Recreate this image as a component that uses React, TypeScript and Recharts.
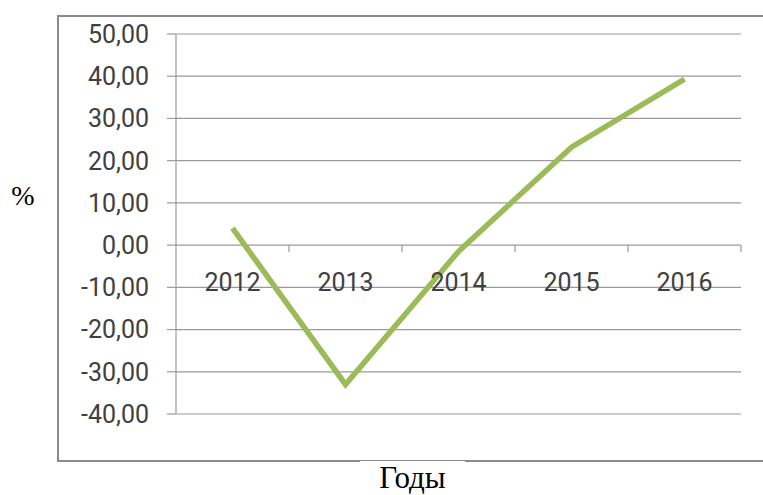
import React from 'react';
import { LineChart, Line, XAxis, YAxis, CartesianGrid, ReferenceDot, ReferenceLine } from 'recharts';

const years = ['2012', '2013', '2014', '2015', '2016'];
const values = [4.0, -33.0, -1.5, 23.2, 39.3];
const yTicks = [-40, -30, -20, -10, 0, 10, 20, 30, 40, 50];
const boundaries = [0.5, 1.5, 2.5, 3.5, 4.5];

const data = years.map((year, i) => ({ idx: i, year, value: values[i] }));

const fmt = (v: number) => v.toFixed(2).replace('.', ',');
const TXT = '#404040';
const GRID = '#9a9a9a';
const FONT = 'Roboto';

export default function App() {
  return (
    <div style={{ position: 'absolute', left: 0, top: 0, width: 763, height: 495, overflow: 'hidden', background: '#fff' }}>
      <div
        style={{
          position: 'absolute',
          left: 57,
          top: 15,
          width: 760,
          height: 447,
          boxSizing: 'border-box',
          border: '2.5px solid #8a8a8a',
        }}
      />
      <div style={{ position: 'absolute', left: 0, top: 0 }}>
        <LineChart width={763} height={495} data={data} margin={{ top: 34, right: 22, bottom: 81, left: 116 }}>
          <CartesianGrid vertical={false} stroke={GRID} strokeWidth={1.2} />
          <XAxis type="number" dataKey="idx" domain={[-0.5, 4.5]} hide />
          <YAxis
            width={60}
            domain={[-40, 50]}
            ticks={yTicks}
            interval={0}
            tickFormatter={fmt}
            tickSize={9}
            tickMargin={18}
            axisLine={{ stroke: GRID, strokeWidth: 1.2 }}
            tickLine={{ stroke: GRID, strokeWidth: 1.2 }}
            tick={{ fill: TXT, fontSize: 25, fontFamily: FONT }}
          />
          {boundaries.map((b) => (
            <ReferenceLine
              key={b}
              segment={[{ x: b, y: 0 }, { x: b, y: -1.66 }]}
              stroke={GRID}
              strokeWidth={1.2}
            />
          ))}
          {data.map((d) => (
            <ReferenceDot
              key={d.year}
              x={d.idx}
              y={0}
              r={0}
              fill="none"
              stroke="none"
              label={{ value: d.year, position: 'bottom', offset: 28, fill: TXT, fontSize: 25, fontFamily: FONT }}
            />
          ))}
          <Line
            type="linear"
            dataKey="value"
            stroke="#9BBB59"
            strokeWidth={5.5}
            dot={false}
            isAnimationActive={false}
          />
        </LineChart>
      </div>
      <div
        style={{
          position: 'absolute',
          left: 360,
          top: 461,
          width: 105,
          height: 34,
          background: '#fff',
          textAlign: 'center',
          fontFamily: '"Liberation Serif", "Times New Roman", serif',
          fontSize: 31,
          lineHeight: '34px',
          color: '#000',
        }}
      >
        Годы
      </div>
      <div
        style={{
          position: 'absolute',
          left: 8,
          top: 180,
          width: 30,
          textAlign: 'center',
          fontFamily: '"Liberation Serif", "Times New Roman", serif',
          fontSize: 28,
          lineHeight: '32px',
          color: '#000',
        }}
      >
        %
      </div>
    </div>
  );
}
